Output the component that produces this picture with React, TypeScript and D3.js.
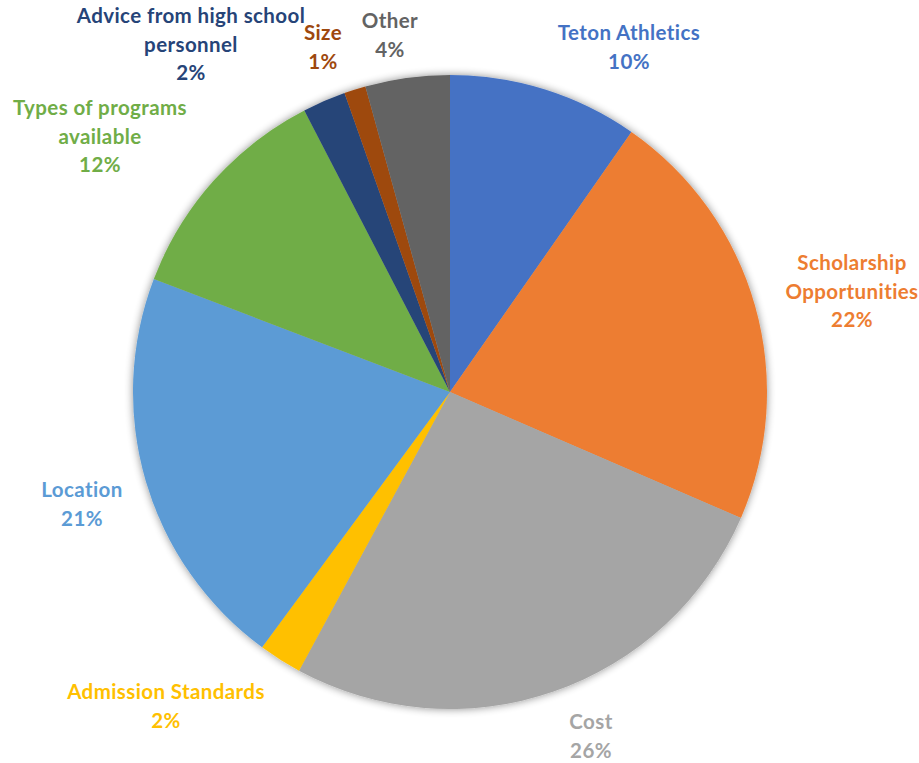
import React from "react";
import * as d3 from "d3";

const categories = [
  "Teton Athletics",
  "Scholarship Opportunities",
  "Cost",
  "Admission Standards",
  "Location",
  "Types of programs available",
  "Advice from high school personnel",
  "Size",
  "Other",
];
const values = [9.7, 21.8, 26.4, 2.2, 20.7, 11.6, 2.2, 1.1, 4.3];
const labelLines = [
  ["Teton Athletics"],
  ["Scholarship", "Opportunities"],
  ["Cost"],
  ["Admission Standards"],
  ["Location"],
  ["Types of programs", "available"],
  ["Advice from high school", "personnel"],
  ["Size"],
  ["Other"],
];
const percentLabels = ["10%", "22%", "26%", "2%", "21%", "12%", "2%", "1%", "4%"];

const colors = ["#4472C4", "#ED7D31", "#A5A5A5", "#FFC000", "#5B9BD5", "#70AD47", "#264478", "#9E480E", "#636363"];
// layout: label block top-line centre
const labelAnchor: [number, number][] = [
  [629, 32],
  [852, 262],
  [591, 721],
  [166, 691],
  [82, 489],
  [100, 107],
  [191, 15],
  [323, 32],
  [390, 20],
];

const W = 919;
const H = 763;
const cx = 450;
const cy = 392;
const R = 317;

export default function App() {
  const pie = d3.pie<number>().sort(null).value((d) => d)(values);
  const arc = d3.arc<d3.PieArcDatum<number>>().innerRadius(0).outerRadius(R);
  const lh = 28.5;
  return (
    <svg width={W} height={H} style={{ position: "absolute", left: 0, top: 0 }}>
      <defs>
        <filter id="sh" x="-20%" y="-20%" width="140%" height="140%">
          <feGaussianBlur in="SourceAlpha" stdDeviation="4" />
          <feOffset dx="0" dy="0" result="b" />
          <feComponentTransfer>
            <feFuncA type="linear" slope="0.45" />
          </feComponentTransfer>
          <feMerge>
            <feMergeNode />
            <feMergeNode in="SourceGraphic" />
          </feMerge>
        </filter>
      </defs>
      <rect width={W} height={H} fill="#fff" />
      <g transform={`translate(${cx},${cy})`} filter="url(#sh)">
        {pie.map((p, i) => (
          <path key={categories[i]} d={arc(p) || ""} fill={colors[i]} />
        ))}
      </g>
      <g fontFamily="Lato, 'Open Sans', sans-serif" fontWeight="bold" fontSize="20.5" letterSpacing="0.4" textAnchor="middle">
        {categories.map((c, i) => {
          const [x, y] = labelAnchor[i];
          const lines = [...labelLines[i], percentLabels[i]];
          return (
            <text key={c} fill={colors[i]}>
              {lines.map((l, j) => (
                <tspan key={j} x={x} y={y + j * lh} dominantBaseline="central">
                  {l}
                </tspan>
              ))}
            </text>
          );
        })}
      </g>
    </svg>
  );
}
